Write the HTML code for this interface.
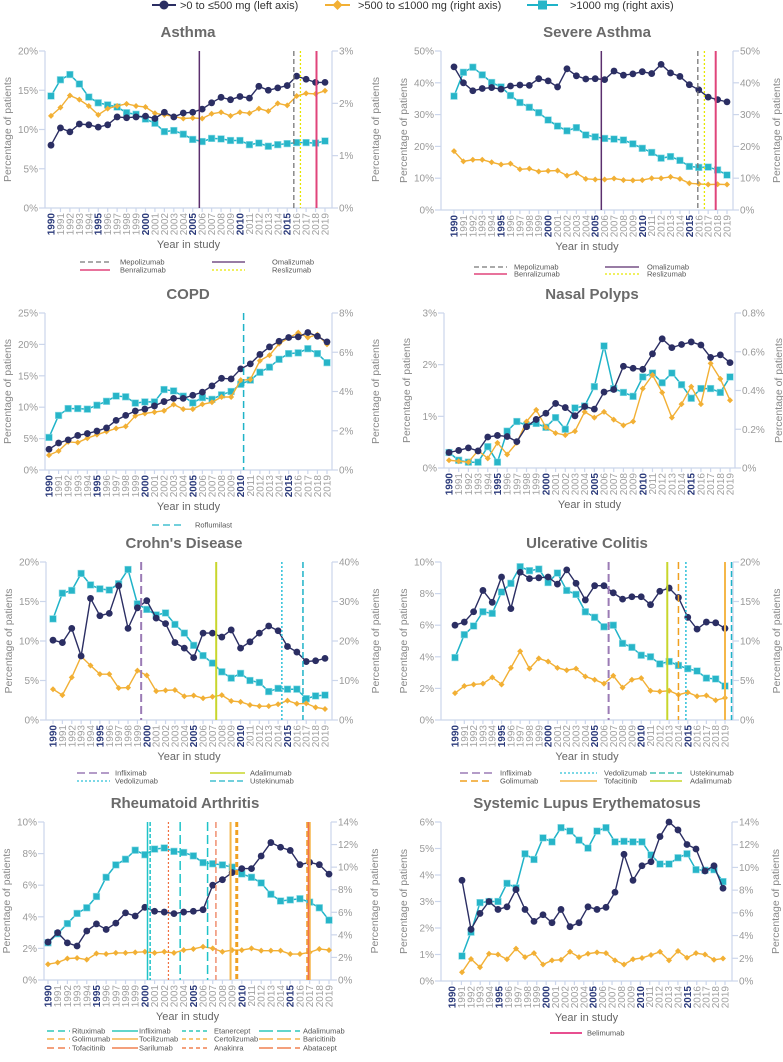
<!DOCTYPE html>
<html><head><meta charset="utf-8">
<style>
html,body{margin:0;padding:0;background:#fff;}
svg{display:block;font-family:"Liberation Sans","DejaVu Sans",sans-serif;}
.lg text{font-size:7.5px;fill:#555;}
</style></head>
<body>
<svg id="chart" width="783" height="1062" viewBox="0 0 783 1062" xmlns="http://www.w3.org/2000/svg">
<g id="top-legend">
  <g>
    <line x1="152" y1="5" x2="176" y2="5" stroke="#2b2e63" stroke-width="2"/>
    <circle cx="164" cy="5" r="4.5" fill="#2b2e63"/>
    <text x="180" y="9" font-size="11" fill="#333">&gt;0 to ≤500 mg (left axis)</text>
  </g>
  <g>
    <line x1="325" y1="5" x2="350" y2="5" stroke="#f2b035" stroke-width="2"/>
    <path d="M337.5 0 L342.5 5 L337.5 10 L332.5 5Z" fill="#f2b035"/>
    <text x="358" y="9" font-size="11" fill="#333">&gt;500 to ≤1000 mg (right axis)</text>
  </g>
  <g>
    <line x1="527" y1="5" x2="558" y2="5" stroke="#1fb3c8" stroke-width="2"/>
    <rect x="538" y="0.5" width="9" height="9" fill="#27b5c8"/>
    <text x="570" y="9" font-size="11" fill="#333">&gt;1000 mg (right axis)</text>
  </g>
</g>

<g class="lg">
  <g><line x1="80" y1="262" x2="110" y2="262" stroke="#777" stroke-width="1.3" stroke-dasharray="5,3"/><text x="120" y="264.5">Mepolizumab</text></g>
  <g><line x1="80" y1="270" x2="110" y2="270" stroke="#e0457b" stroke-width="1.5"/><text x="120" y="272.5">Benralizumab</text></g>
  <g><line x1="212" y1="262" x2="245" y2="262" stroke="#5b2f6e" stroke-width="1.3"/><text x="272" y="264.5">Omalizumab</text></g>
  <g><line x1="212" y1="270" x2="245" y2="270" stroke="#e6e600" stroke-width="1.3" stroke-dasharray="2,2"/><text x="272" y="272.5">Reslizumab</text></g>
</g>
<g class="lg">
  <g><line x1="474" y1="267" x2="507" y2="267" stroke="#777" stroke-width="1.3" stroke-dasharray="5,3"/><text x="514" y="269.5">Mepolizumab</text></g>
  <g><line x1="474" y1="274" x2="507" y2="274" stroke="#e0457b" stroke-width="1.5"/><text x="514" y="276.5">Benralizumab</text></g>
  <g><line x1="605" y1="267" x2="639" y2="267" stroke="#5b2f6e" stroke-width="1.3"/><text x="647" y="269.5">Omalizumab</text></g>
  <g><line x1="605" y1="274" x2="639" y2="274" stroke="#e6e600" stroke-width="1.3" stroke-dasharray="2,2"/><text x="647" y="276.5">Reslizumab</text></g>
</g>
<g class="lg">
  <g><line x1="152" y1="525" x2="185" y2="525" stroke="#1fb3c8" stroke-width="1.3" stroke-dasharray="7,4"/><text x="195" y="527.5">Roflumilast</text></g>
</g>
<g class="lg">
  <g><line x1="77" y1="773" x2="110" y2="773" stroke="#9b7bb5" stroke-width="1.5" stroke-dasharray="8,4"/><text x="115" y="775.5">Infliximab</text></g>
  <g><line x1="77" y1="781" x2="110" y2="781" stroke="#2cc0d8" stroke-width="1.3" stroke-dasharray="2,2"/><text x="115" y="783.5">Vedolizumab</text></g>
  <g><line x1="210" y1="773" x2="245" y2="773" stroke="#c8d62c" stroke-width="1.5"/><text x="250" y="775.5">Adalimumab</text></g>
  <g><line x1="210" y1="781" x2="245" y2="781" stroke="#1fb3c8" stroke-width="1.3" stroke-dasharray="6,3"/><text x="250" y="783.5">Ustekinumab</text></g>
</g>
<g class="lg">
  <g><line x1="460" y1="773" x2="492" y2="773" stroke="#9b7bb5" stroke-width="1.5" stroke-dasharray="8,4"/><text x="500" y="775.5">Infliximab</text></g>
  <g><line x1="460" y1="781" x2="492" y2="781" stroke="#f0a020" stroke-width="1.5" stroke-dasharray="7,4"/><text x="500" y="783.5">Golimumab</text></g>
  <g><line x1="560" y1="773" x2="597" y2="773" stroke="#2cc0d8" stroke-width="1.3" stroke-dasharray="2,2"/><text x="604" y="775.5">Vedolizumab</text></g>
  <g><line x1="560" y1="781" x2="597" y2="781" stroke="#f5b74a" stroke-width="1.5"/><text x="604" y="783.5">Tofacitinib</text></g>
  <g><line x1="650" y1="773" x2="682" y2="773" stroke="#1fb3a8" stroke-width="1.3" stroke-dasharray="6,3"/><text x="690" y="775.5">Ustekinumab</text></g>
  <g><line x1="650" y1="781" x2="682" y2="781" stroke="#c8d62c" stroke-width="1.5"/><text x="690" y="783.5">Adalimumab</text></g>
</g>
<g class="lg">
  <g><line x1="47" y1="1031" x2="70" y2="1031" stroke="#2ec8b8" stroke-width="1.5" stroke-dasharray="7,4"/><text x="72" y="1033.5">Rituximab</text></g>
  <g><line x1="112" y1="1031" x2="138" y2="1031" stroke="#2ec8b8" stroke-width="1.5"/><text x="139" y="1033.5">Infliximab</text></g>
  <g><line x1="182" y1="1031" x2="210" y2="1031" stroke="#2ec8b8" stroke-width="1.5" stroke-dasharray="4,3"/><text x="214" y="1033.5">Etanercept</text></g>
  <g><line x1="259" y1="1031" x2="300" y2="1031" stroke="#2ec8b8" stroke-width="1.5" stroke-dasharray="14,4"/><text x="303" y="1033.5">Adalimumab</text></g>
  <g><line x1="47" y1="1039" x2="70" y2="1039" stroke="#f5b74a" stroke-width="1.5" stroke-dasharray="7,4"/><text x="72" y="1041.5">Golimumab</text></g>
  <g><line x1="112" y1="1039" x2="138" y2="1039" stroke="#f5b74a" stroke-width="1.5"/><text x="139" y="1041.5">Tocilizumab</text></g>
  <g><line x1="182" y1="1039" x2="210" y2="1039" stroke="#f5b74a" stroke-width="1.5" stroke-dasharray="4,3"/><text x="214" y="1041.5">Certolizumab</text></g>
  <g><line x1="259" y1="1039" x2="300" y2="1039" stroke="#f5b74a" stroke-width="1.5" stroke-dasharray="14,4"/><text x="303" y="1041.5">Baricitinib</text></g>
  <g><line x1="47" y1="1048" x2="70" y2="1048" stroke="#f08050" stroke-width="1.5" stroke-dasharray="7,4"/><text x="72" y="1050.5">Tofacitinib</text></g>
  <g><line x1="112" y1="1048" x2="138" y2="1048" stroke="#f08050" stroke-width="1.5"/><text x="139" y="1050.5">Sarilumab</text></g>
  <g><line x1="182" y1="1048" x2="210" y2="1048" stroke="#f08050" stroke-width="1.5" stroke-dasharray="4,3"/><text x="214" y="1050.5">Anakinra</text></g>
  <g><line x1="259" y1="1048" x2="300" y2="1048" stroke="#f08050" stroke-width="1.5" stroke-dasharray="14,4"/><text x="303" y="1050.5">Abatacept</text></g>
</g>
<g class="lg">
  <g><line x1="550" y1="1033" x2="582" y2="1033" stroke="#e0156b" stroke-width="1.5"/><text x="587" y="1035.5">Belimumab</text></g>
</g>
</svg>
<script>
const years = [1990,1991,1992,1993,1994,1995,1996,1997,1998,1999,2000,2001,2002,2003,2004,2005,2006,2007,2008,2009,2010,2011,2012,2013,2014,2015,2016,2017,2018,2019];

const asthmaLow = [8.0,10.2,9.7,10.7,10.6,10.3,10.6,11.6,11.5,11.6,11.7,11.4,12.2,11.6,12.1,12.2,12.6,13.4,14.1,13.8,14.2,14.0,15.5,15.0,15.3,15.6,16.8,16.4,16.0,16.0];
const asthmaMid = [1.76,1.92,2.15,2.07,1.95,1.78,1.90,1.95,1.99,1.95,1.93,1.81,1.78,1.75,1.71,1.72,1.71,1.80,1.83,1.76,1.83,1.81,1.90,1.85,2.00,1.96,2.14,2.19,2.18,2.24];
const asthmaHigh = [2.14,2.45,2.55,2.37,2.12,2.01,1.97,1.93,1.82,1.79,1.70,1.62,1.46,1.48,1.41,1.31,1.27,1.33,1.32,1.29,1.29,1.21,1.24,1.18,1.21,1.23,1.25,1.25,1.24,1.28];
const asthmaLeftTicks = [0,5,10,15,20];
const asthmaRightTicks = [0,1,2,3];
const asthmaLaunchNames = ["Omalizumab","Mepolizumab","Reslizumab","Benralizumab"];
const asthmaLaunchYears = [2005.7,2015.7,2016.4,2018.1];

const sevLow = [45.0,40.0,37.5,38.2,38.5,38.0,39.0,39.3,39.2,41.3,40.6,38.7,44.4,42.2,41.2,41.3,41.0,43.7,42.4,42.8,43.5,42.9,45.8,43.1,42.0,39.4,37.8,35.5,34.7,34.0];
const sevMid = [18.5,15.3,15.8,15.8,15.0,14.3,14.6,12.8,13.0,12.1,12.3,12.4,10.8,11.6,9.8,9.6,9.6,9.9,9.4,9.3,9.4,10.0,10.0,10.4,9.8,8.4,8.2,8.0,8.1,8.0];
const sevHigh = [35.8,43.3,44.9,42.5,40.1,38.7,36.0,33.8,32.3,30.6,28.3,26.4,24.9,25.9,23.6,23.0,22.5,22.3,22.0,20.8,19.4,18.1,16.3,16.8,15.6,13.7,13.4,13.5,12.6,11.0];
const sevLeftTicks = [0,10,20,30,40,50];
const sevRightTicks = [0,10,20,30,40,50];
const sevLaunchNames = ["Omalizumab","Mepolizumab","Reslizumab","Benralizumab"];
const sevLaunchYears = [2005.65,2015.9,2016.6,2017.8];

const copdLow = [3.3,4.3,4.8,5.5,5.8,6.2,6.7,7.9,8.7,9.4,9.7,10.2,10.9,11.4,11.4,11.9,12.4,13.4,14.6,14.5,16.1,16.9,18.4,19.6,20.5,21.1,21.2,21.9,21.3,20.4];
const copdMid = [0.76,0.97,1.43,1.40,1.62,1.80,1.96,2.12,2.22,2.76,2.88,2.95,3.02,3.34,3.10,3.10,3.35,3.45,3.72,3.72,4.58,4.61,5.57,5.85,6.43,6.73,7.0,6.75,6.9,6.4];
const copdHigh = [1.66,2.78,3.13,3.13,3.10,3.30,3.50,3.77,3.73,3.41,3.47,3.47,4.10,4.03,3.76,3.42,3.69,3.60,3.83,4.00,4.37,4.58,4.98,5.24,5.64,5.93,5.97,6.18,5.93,5.47];
const copdLeftTicks = [0,5,10,15,20,25];
const copdRightTicks = [0,2,4,6,8];
const copdLaunchNames = ["Roflumilast"];
const copdLaunchYears = [2010.3];

const npLow = [0.30,0.34,0.39,0.33,0.60,0.63,0.61,0.51,0.80,0.94,1.06,1.25,1.17,1.01,1.19,1.14,1.47,1.52,1.97,1.93,1.91,2.21,2.50,2.33,2.39,2.44,2.38,2.14,2.19,2.04];
const npMid = [0.04,0.035,0.03,0.09,0.05,0.13,0.07,0.13,0.24,0.30,0.21,0.18,0.17,0.19,0.29,0.26,0.29,0.25,0.22,0.24,0.41,0.48,0.39,0.26,0.33,0.42,0.33,0.54,0.46,0.35];
const npHigh = [0.08,0.04,0.03,0.03,0.11,0.03,0.19,0.24,0.22,0.23,0.21,0.26,0.20,0.31,0.32,0.42,0.63,0.41,0.39,0.37,0.47,0.49,0.44,0.49,0.43,0.36,0.41,0.41,0.39,0.47];
const npLeftTicks = [0,1,2,3];
const npRightTicks = [0,0.2,0.4,0.6,0.8];

const cdLow = [10.1,9.8,11.6,8.1,15.4,13.2,13.5,17.0,11.6,14.2,15.1,12.9,12.2,9.8,9.1,7.9,11.0,11.0,10.5,11.4,9.1,9.9,11.0,11.9,11.3,9.3,8.6,7.4,7.5,7.8];
const cdMid = [7.8,6.3,10.8,16.1,13.8,11.6,11.6,8.1,8.2,12.5,11.3,7.3,7.5,7.6,6.0,6.2,5.5,5.9,6.3,4.8,4.6,3.8,3.5,3.5,4.0,4.9,4.1,4.2,3.2,2.8];
const cdHigh = [25.6,32.1,32.8,37.1,34.2,33.2,32.9,34.5,38.1,29.4,28.0,26.6,27.1,24.2,22.0,18.9,16.3,14.4,12.2,10.6,11.8,10.0,9.5,7.2,8.0,7.8,7.8,5.4,6.1,6.3];
const cdLeftTicks = [0,5,10,15,20];
const cdRightTicks = [0,10,20,30,40];
const cdLaunchNames = ["Infliximab","Adalimumab","Vedolizumab","Ustekinumab"];
const cdLaunchYears = [1999.4,2007.4,2014.4,2016.65];

const ucLow = [6.0,6.2,6.85,8.2,7.45,9.05,7.05,9.35,8.95,9.0,9.05,8.6,9.5,8.65,7.6,8.5,8.5,8.05,7.65,7.8,7.8,7.3,8.15,8.35,7.75,6.5,5.75,6.2,6.15,5.8];
const ucMid = [3.4,4.3,4.5,4.6,5.4,4.5,6.6,8.7,6.5,7.8,7.4,6.6,6.3,6.5,5.5,5.1,4.6,5.6,4.1,5.1,5.3,3.7,3.6,3.7,3.2,3.5,3.0,3.1,2.5,2.8];
const ucHigh = [7.9,10.8,11.9,13.7,13.5,16.2,17.3,19.4,18.9,19.1,17.4,18.6,16.4,15.9,13.7,13.0,11.8,12.0,9.7,9.2,8.2,8.0,7.1,7.4,6.9,6.5,6.2,5.3,5.2,4.3];
const ucLeftTicks = [0,2,4,6,8,10];
const ucRightTicks = [0,5,10,15,20];
const ucLaunchNames = ["Infliximab","Adalimumab","Golimumab","Vedolizumab","Tofacitinib","Ustekinumab"];
const ucLaunchYears = [2006.5,2012.8,2014.0,2014.8,2019.0,2019.7];

const raLow = [2.4,3.0,2.35,2.15,3.1,3.55,3.2,3.6,4.25,4.05,4.6,4.35,4.3,4.2,4.3,4.35,4.45,6.0,6.35,6.8,7.05,7.05,7.85,8.7,8.4,8.2,7.3,7.45,7.3,6.7];
const raMid = [1.4,1.55,1.9,1.95,1.8,2.35,2.3,2.4,2.4,2.45,2.5,2.4,2.5,2.4,2.65,2.75,2.95,2.8,2.5,2.65,2.65,2.8,2.6,2.6,2.6,2.3,2.3,2.45,2.75,2.65];
const raHigh = [3.3,4.1,5.0,5.9,6.4,7.4,9.1,10.2,10.7,11.5,11.1,11.6,11.7,11.4,11.3,11.0,10.4,10.3,10.2,10.0,9.4,9.1,8.6,7.6,7.0,7.1,7.2,6.9,6.4,5.3];
const raLeftTicks = [0,2,4,6,8,10];
const raRightTicks = [0,2,4,6,8,10,12,14];
const raLaunchNames = ["Infliximab","Etanercept","Anakinra","Adalimumab","Rituximab","Abatacept","Tocilizumab","Certolizumab","Golimumab","Baricitinib","Sarilumab","Tofacitinib"];
const raLaunchYears = [2000.27,2000.54,2002.43,2003.64,2006.47,2007.33,2008.84,2009.43,2009.53,2016.73,2016.9,2017.04];

const sleLow = [3.8,1.95,2.55,3.0,2.7,2.8,3.45,2.7,2.25,2.5,2.2,2.7,2.05,2.2,2.8,2.7,2.78,3.35,4.78,3.8,4.35,4.5,5.45,6.0,5.7,5.15,4.98,4.15,4.35,3.5];
const sleMid = [0.77,1.94,1.21,2.4,2.33,1.91,2.85,2.1,2.45,1.45,1.82,1.87,2.57,2.1,2.4,2.52,2.45,1.82,1.45,1.91,2.03,2.29,2.57,1.82,2.64,2.05,2.45,2.33,1.87,1.98];
const sleHigh = [2.2,4.3,6.9,7.0,7.0,8.6,8.2,11.2,10.7,12.6,12.25,13.5,13.2,12.4,11.7,13.2,13.5,12.25,12.3,12.25,12.25,11.1,10.3,10.3,10.85,11.2,9.8,9.75,9.8,8.75];
const sleLeftTicks = [0,1,2,3,4,5,6];
const sleRightTicks = [0,2,4,6,8,10,12,14];
const sleLaunchNames = ["Belimumab"];
const sleLaunchYears = [2011.4];

const ST = {
  Omalizumab:{c:"#5b2f6e",d:"none",w:1.5},
  Mepolizumab:{c:"#777",d:"5,3",w:1.3},
  Reslizumab:{c:"#e6e600",d:"2,2",w:1.3},
  Benralizumab:{c:"#e0457b",d:"none",w:2},
  Roflumilast:{c:"#1fb3c8",d:"7,4",w:1.5},
  Infliximab:{c:"#9b7bb5",d:"8,4",w:2},
  Adalimumab:{c:"#c8d62c",d:"none",w:2},
  Vedolizumab:{c:"#2cc0d8",d:"2,2",w:1.5},
  Ustekinumab:{c:"#1fb3c8",d:"6,3",w:1.5},
  Golimumab:{c:"#f0a020",d:"7,4",w:1.5},
  Tofacitinib:{c:"#f5b74a",d:"none",w:2}
};
const RAST = {
  Infliximab:{c:"#1fc3c8",d:"none",w:1.5}, Etanercept:{c:"#1fc3c8",d:"4,2",w:1.5},
  Anakinra:{c:"#f07040",d:"2,2",w:1.2}, Adalimumab:{c:"#1fc3c8",d:"9,4",w:1.5},
  Rituximab:{c:"#1fc3c8",d:"9,4",w:1.5}, Abatacept:{c:"#f09070",d:"6,3",w:1.5},
  Tocilizumab:{c:"#f5b74a",d:"none",w:2}, Certolizumab:{c:"#f0a020",d:"5,3",w:2},
  Golimumab:{c:"#f0a020",d:"5,3",w:2}, Baricitinib:{c:"#f0a020",d:"6,3",w:1.5},
  Sarilumab:{c:"#f07050",d:"none",w:2}, Tofacitinib:{c:"#f5b74a",d:"none",w:1.5}
};

const NS = "http://www.w3.org/2000/svg";
const svgRoot = document.getElementById("chart");
function mk(tag, attrs, parent){
  const e = document.createElementNS(NS, tag);
  for (const k in attrs) e.setAttribute(k, attrs[k]);
  (parent||svgRoot).appendChild(e);
  return e;
}
function txt(parent, x, y, s, size, fill, extra){
  const t = mk("text", Object.assign({x:x, y:y, "font-size":size, fill:fill}, extra||{}), parent);
  t.textContent = s;
  return t;
}

function panel(cfg){
  const g = mk("g", {});
  
  
  const n = years.length - 1;
  const xs = i => cfg.x0 + i*(cfg.x1-cfg.x0)/n;
  const xy = yr => cfg.x0 + (yr-years[0])*(cfg.x1-cfg.x0)/n;
  const lx0 = cfg.lx0 !== undefined ? cfg.lx0 : cfg.x0;
  const lx1 = cfg.lx1 !== undefined ? cfg.lx1 : cfg.x1;
  const yL = v => cfg.yB - v/cfg.lMax*(cfg.yB-cfg.yT);
  const yR = v => cfg.yB - v/cfg.rMax*(cfg.yB-cfg.yT);

  const title = txt(g, cfg.tx, cfg.yT-14, cfg.title, 15, "#6a6a6a", {"text-anchor":"middle","font-weight":"bold"});
  
  

  const axes = mk("g", {stroke:"#ccd6eb","stroke-width":1.2}, g);
  
  
  mk("line",{x1:cfg.axL,y1:cfg.yT,x2:cfg.axL,y2:cfg.yB},axes);
  mk("line",{x1:cfg.axR,y1:cfg.yT,x2:cfg.axR,y2:cfg.yB},axes);
  mk("line",{x1:cfg.axL,y1:cfg.yB,x2:cfg.axR,y2:cfg.yB},axes);
  cfg.lt.forEach(v=>{
    const y = yL(v);
    mk("line",{x1:cfg.axL-6,y1:y,x2:cfg.axL,y2:y},axes);
    const t = txt(g, cfg.axL-7, y+3.5, v+"%", 10, "#999", {"text-anchor":"end"});
    
    
  });
  cfg.rt.forEach(v=>{
    const y = yR(v);
    mk("line",{x1:cfg.axR,y1:y,x2:cfg.axR+6,y2:y},axes);
    const t = txt(g, cfg.axR+7, y+3.5, (Math.round(v*10)/10)+"%", 10, "#999", {});
    
    
  });
  years.forEach((yr,i)=>{
    const x = lx0 + i*(lx1-lx0)/n;
    mk("line",{x1:x,y1:cfg.yB,x2:x,y2:cfg.yB+4},axes);
    const bold = yr%5===0;
    const t = txt(g, 0, 0, String(yr), 10, bold?"#2b3a7a":"#a0a0a0",
      {"text-anchor":"end","font-weight":bold?"bold":"normal",transform:"translate("+(x+3.5)+","+(cfg.yB+5)+") rotate(-90)"});
    
    
  });
  const xt = txt(g, (cfg.axL+cfg.axR)/2, cfg.yB+40, "Year in study", 11, "#666", {"text-anchor":"middle"});
  
  
  const midY = (cfg.yT+cfg.yB)/2;
  const yl = txt(g, 0, 0, "Percentage of patients", 10.5, "#888", {"text-anchor":"middle",transform:"translate("+(cfg.axL-34)+","+midY+") rotate(-90)"});
  
  
  const yr2 = txt(g, 0, 0, "Percentage of patients", 10.5, "#888", {"text-anchor":"middle",transform:"translate("+(cfg.axR+47)+","+midY+") rotate(-90)"});
  
  

  const hi = mk("g", {}, g);
  
  
  mk("polyline",{points:cfg.high.map((v,i)=>xs(i)+","+yR(v)).join(" "),fill:"none",stroke:"#1fb3c8","stroke-width":1.5},hi);
  cfg.high.forEach((v,i)=>{
    const r = mk("rect",{x:xs(i)-3.3,y:yR(v)-3.3,width:6.6,height:6.6,fill:"#27b5c8",stroke:"#8fdce6","stroke-width":0.6},hi);
    
    
  });
  const mi = mk("g", {}, g);
  
  
  mk("polyline",{points:cfg.mid.map((v,i)=>xs(i)+","+yR(v)).join(" "),fill:"none",stroke:"#f2b035","stroke-width":1.4},mi);
  cfg.mid.forEach((v,i)=>{
    const x=xs(i), y=yR(v);
    const p = mk("path",{d:"M"+x+" "+(y-3)+" L"+(x+3)+" "+y+" L"+x+" "+(y+3)+" L"+(x-3)+" "+y+"Z",fill:"#f2b035"},mi);
    
    
  });
  const lo = mk("g", {}, g);
  
  
  mk("polyline",{points:cfg.low.map((v,i)=>xs(i)+","+yL(v)).join(" "),fill:"none",stroke:"#2b2e63","stroke-width":1.4},lo);
  cfg.low.forEach((v,i)=>{
    const c = mk("circle",{cx:xs(i),cy:yL(v),r:3.4,fill:"#2b2e63"},lo);
    
    
  });
  const names = cfg.ln || [];
  const styles = cfg.st || ST;
  for (let k = 0; k < names.length; k++){
    const s = styles[names[k]];
    if (!s) continue;
    const x = xy(cfg.ly[k]);
    const l = mk("line",{x1:x,y1:cfg.yT,x2:x,y2:cfg.yB,stroke:s.c,"stroke-width":s.w,"stroke-dasharray":s.d},g);
    
    
  }
}

const panels = [
 {name:"asthma",title:"Asthma",tx:188,x0:51,x1:325,yT:51,yB:208,axL:45,axR:332,lMax:20,rMax:3,lt:asthmaLeftTicks,rt:asthmaRightTicks,low:asthmaLow,mid:asthmaMid,high:asthmaHigh,ln:asthmaLaunchNames,ly:asthmaLaunchYears},
 {name:"severe-asthma",title:"Severe Asthma",tx:597,x0:454,x1:727,yT:51,yB:210,axL:441,axR:733,lMax:50,rMax:50,lt:sevLeftTicks,rt:sevRightTicks,low:sevLow,mid:sevMid,high:sevHigh,ln:sevLaunchNames,ly:sevLaunchYears},
 {name:"copd",title:"COPD",tx:188,x0:49,x1:327,yT:313,yB:470,axL:45,axR:332,lMax:25,rMax:8,lt:copdLeftTicks,rt:copdRightTicks,low:copdLow,mid:copdMid,high:copdHigh,ln:copdLaunchNames,ly:copdLaunchYears},
 {name:"nasal-polyps",title:"Nasal Polyps",tx:592,x0:449,x1:730,yT:313,yB:468,axL:444,axR:735,lMax:3,rMax:0.8,lt:npLeftTicks,rt:npRightTicks,low:npLow,mid:npMid,high:npHigh,ln:[],ly:[]},
 {name:"crohns-disease",title:"Crohn's Disease",tx:184,x0:53,x1:325,yT:562,yB:720,axL:46,axR:332,lMax:20,rMax:40,lt:cdLeftTicks,rt:cdRightTicks,low:cdLow,mid:cdMid,high:cdHigh,ln:cdLaunchNames,ly:cdLaunchYears},
 {name:"ulcerative-colitis",title:"Ulcerative Colitis",tx:587,x0:455,x1:725,yT:562,yB:720,axL:441,axR:733,lMax:10,rMax:20,lt:ucLeftTicks,rt:ucRightTicks,low:ucLow,mid:ucMid,high:ucHigh,ln:ucLaunchNames,ly:ucLaunchYears},
 {name:"rheumatoid-arthritis",title:"Rheumatoid Arthritis",tx:185,x0:48,x1:329,yT:822,yB:980,axL:44,axR:331,lMax:10,rMax:14,lt:raLeftTicks,rt:raRightTicks,low:raLow,mid:raMid,high:raHigh,ln:raLaunchNames,ly:raLaunchYears,st:RAST},
 {name:"systemic-lupus",title:"Systemic Lupus Erythematosus",tx:587,x0:462,x1:723,lx0:452,lx1:725,yT:822,yB:981,axL:441,axR:732,lMax:6,rMax:14,lt:sleLeftTicks,rt:sleRightTicks,low:sleLow,mid:sleMid,high:sleHigh,ln:sleLaunchNames,ly:sleLaunchYears}
];
for (const p of panels){ try { panel(p); } catch(e) {} }
</script>
</body></html>
